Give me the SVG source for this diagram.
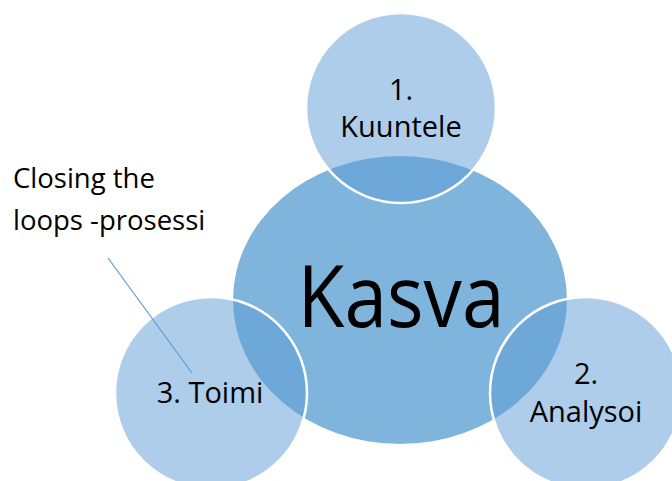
<svg xmlns="http://www.w3.org/2000/svg" width="672" height="481" viewBox="0 0 672 481">
  <style>
    .t { font-family: "Open Sans", "Liberation Sans", sans-serif; fill: #000; text-anchor: middle; }
    .small { fill: #5B9BD5; fill-opacity: 0.5; stroke: #FFFFFF; stroke-width: 2.5; }
  </style>
  <rect width="672" height="481" fill="#FFFFFF"/>
  <g id="kasva">
    <ellipse cx="400" cy="300" rx="167" ry="144" fill="#7FB5DD"/>
    <text class="t" x="401" y="327" font-size="86" textLength="207" lengthAdjust="spacingAndGlyphs">Kasva</text>
  </g>
  <g id="kuuntele">
    <circle class="small" cx="401" cy="108" r="95"/>
    <text class="t" x="401" y="100" font-size="29">1.</text>
    <text class="t" x="401" y="137" font-size="29">Kuuntele</text>
  </g>
  <g id="toimi">
    <circle class="small" cx="211" cy="393" r="96"/>
    <text class="t" x="210" y="403" font-size="29">3. Toimi</text>
  </g>
  <g id="analysoi">
    <circle class="small" cx="586" cy="393" r="96"/>
    <text class="t" x="586" y="384" font-size="29">2.</text>
    <text class="t" x="586" y="422" font-size="29">Analysoi</text>
  </g>
  <g id="callout">
    <text class="t" x="13" y="188" font-size="27.5" style="text-anchor:start">Closing the</text>
    <text class="t" x="13" y="230" font-size="27.5" style="text-anchor:start">loops -prosessi</text>
  </g>
  <g id="connectors">
    <line x1="108" y1="258" x2="192" y2="373" stroke="#5B9BD5" stroke-width="1.2"/>
  </g>
</svg>
